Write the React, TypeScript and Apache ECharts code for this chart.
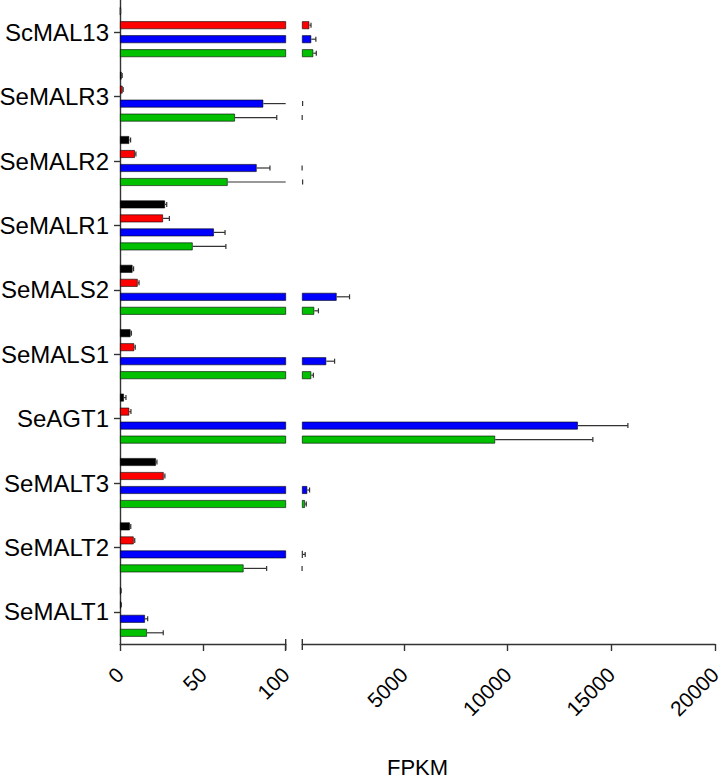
import React, { useEffect, useRef } from 'react';
import * as echarts from 'echarts';

const categories = ['ScMAL13', 'SeMALR3', 'SeMALR2', 'SeMALR1', 'SeMALS2', 'SeMALS1', 'SeAGT1', 'SeMALT3', 'SeMALT2', 'SeMALT1'];
const seriesNames = ['Sample 1', 'Sample 2', 'Sample 3', 'Sample 4'];
const seriesColors = ['#000000', '#ff0000', '#0000ff', '#00c000'];

const blackValues = [0.3, 1.0, 5.6, 27.2, 7.6, 6.4, 2.4, 21.7, 6.0, 0.5];
const blackErrors = [0.1, 0.3, 0.8, 1.0, 0.6, 0.5, 1.2, 0.6, 0.5, 0.2];
const redValues = [440, 1.6, 9.0, 26.0, 10.7, 8.6, 5.6, 26.4, 8.3, 0.6];
const redErrors = [80, 0.3, 0.6, 3.8, 0.8, 0.6, 1.0, 0.7, 0.6, 0.2];
const blueValues = [534, 86.5, 82.5, 56.7, 1758, 1257, 13390, 341, 120, 15.1];
const blueErrors = [220, 28, 8, 6.7, 620, 400, 2410, 110, 120, 1.6];
const greenValues = [630, 69.4, 65, 43.9, 678, 534, 9400, 230, 74.6, 16.3];
const greenErrors = [145, 25.2, 50, 20, 200, 100, 4710, 63, 13.9, 9.8];

const rightTicks = [5000, 10000, 15000, 20000];
const axisTitle = 'FPKM';

const allValues = [blackValues, redValues, blueValues, greenValues];
const allErrors = [blackErrors, redErrors, blueErrors, greenErrors];

// layout constants
const G1L = 120, G1R = 285.7, G2L = 302.3, G2R = 715, GTOP = 0, GH = 644;
const FONT = 'Liberation Sans, Arial, sans-serif';
const BAR_W = 8, BAR_STEP = 14;
const AXIS_COLOR = '#333333';

export default function App() {
  const ref = useRef<HTMLDivElement>(null);
  useEffect(() => {
    const chart = echarts.init(ref.current!, null, { renderer: 'svg' });
    const errData: any[] = [];
    allValues.forEach((vals, si) => {
      vals.forEach((v, ci) => errData.push([v, ci, si, allErrors[si][ci]]));
    });
    const renderErr = (params: any, api: any) => {
      const v = api.value(0), ci = api.value(1), si = api.value(2), e = api.value(3);
      const cs = params.coordSys;
      const p0 = api.coord([v, ci]);
      const p1 = api.coord([v + e, ci]);
      const band = api.size([0, 1])[1];
      const y = p0[1] + (si - 1.5) * BAR_STEP * band / 64.4;
      const xmin = cs.x, xmax = cs.x + cs.width;
      const a = Math.max(p0[0], xmin), b = Math.min(p1[0], xmax);
      const children: any[] = [];
      const st = { stroke: '#333', lineWidth: 1.2 };
      if (b > a) children.push({ type: 'line', shape: { x1: a, y1: y, x2: b, y2: y }, style: st });
      if (p1[0] >= xmin - 0.5 && p1[0] <= xmax + 0.5)
        children.push({ type: 'line', shape: { x1: p1[0], y1: y - 2.5, x2: p1[0], y2: y + 2.5 }, style: st });
      return { type: 'group', children };
    };
    const series: any[] = [];
    [0, 1].forEach((g) => {
      allValues.forEach((vals, si) => {
        series.push({
          type: 'bar', name: seriesNames[si], xAxisIndex: g, yAxisIndex: g,
          data: vals, barWidth: BAR_W, barGap: '75%',
          itemStyle: { color: seriesColors[si], borderColor: 'rgba(0,0,0,0.75)', borderWidth: 0.8 },
          clip: true,
        });
      });
      series.push({
        type: 'custom', xAxisIndex: g, yAxisIndex: g, data: errData,
        encode: { x: 0, y: 1 }, renderItem: renderErr, z: 3,
      });
    });
    const axisLineStyle = { color: AXIS_COLOR, width: 1.4, opacity: 1 };
    const xLabel = { rotate: 45, fontSize: 21, color: '#000', fontFamily: FONT, margin: 27, formatter: (v: number) => String(v) };
    chart.setOption({
      animation: false,
      backgroundColor: '#fff',
      grid: [
        { left: G1L, top: GTOP, width: G1R - G1L, height: GH, outerBoundsMode: 'none', containLabel: false },
        { left: G2L, top: GTOP, width: G2R - G2L, height: GH, outerBoundsMode: 'none', containLabel: false },
      ],
      xAxis: [
        {
          gridIndex: 0, type: 'value', min: 0, max: 100, interval: 50, position: 'bottom',
          splitLine: { show: false },
          axisLine: { show: true, onZero: false, lineStyle: axisLineStyle },
          axisTick: { show: true, length: 7, lineStyle: axisLineStyle },
          axisLabel: { ...xLabel },
        },
        {
          gridIndex: 1, type: 'value', min: 100, max: 20000, position: 'bottom',
          splitLine: { show: false },
          axisLine: { show: true, onZero: false, lineStyle: axisLineStyle },
          axisTick: { show: true, length: 7, lineStyle: axisLineStyle, customValues: rightTicks },
          axisLabel: { ...xLabel, customValues: rightTicks },
        },
      ],
      yAxis: [
        {
          gridIndex: 0, type: 'category', data: categories, inverse: true,
          axisLine: { show: true, lineStyle: axisLineStyle },
          axisTick: { show: true, alignWithLabel: true, length: 6, lineStyle: axisLineStyle },
          axisLabel: { fontSize: 24, color: '#000', fontFamily: FONT, margin: 11 },
        },
        { gridIndex: 1, type: 'category', data: categories, inverse: true, show: false },
      ],
      series,
      graphic: [
        { type: 'line', shape: { x1: G1R, y1: GTOP + GH - 5, x2: G1R, y2: GTOP + GH + 6 }, style: { stroke: AXIS_COLOR, lineWidth: 1.4 } },
        { type: 'line', shape: { x1: G2L, y1: GTOP + GH - 5, x2: G2L, y2: GTOP + GH + 6 }, style: { stroke: AXIS_COLOR, lineWidth: 1.4 } },
        {
          type: 'text', x: (G1L + G2R) / 2, y: 767,
          style: { text: axisTitle, fontSize: 22, fill: '#000', fontFamily: FONT, textAlign: 'center', textVerticalAlign: 'middle' },
        },
      ],
    });
    return () => chart.dispose();
  }, []);
  return <div ref={ref} style={{ position: 'fixed', left: 0, top: 0, width: 720, height: 778 }} />;
}
